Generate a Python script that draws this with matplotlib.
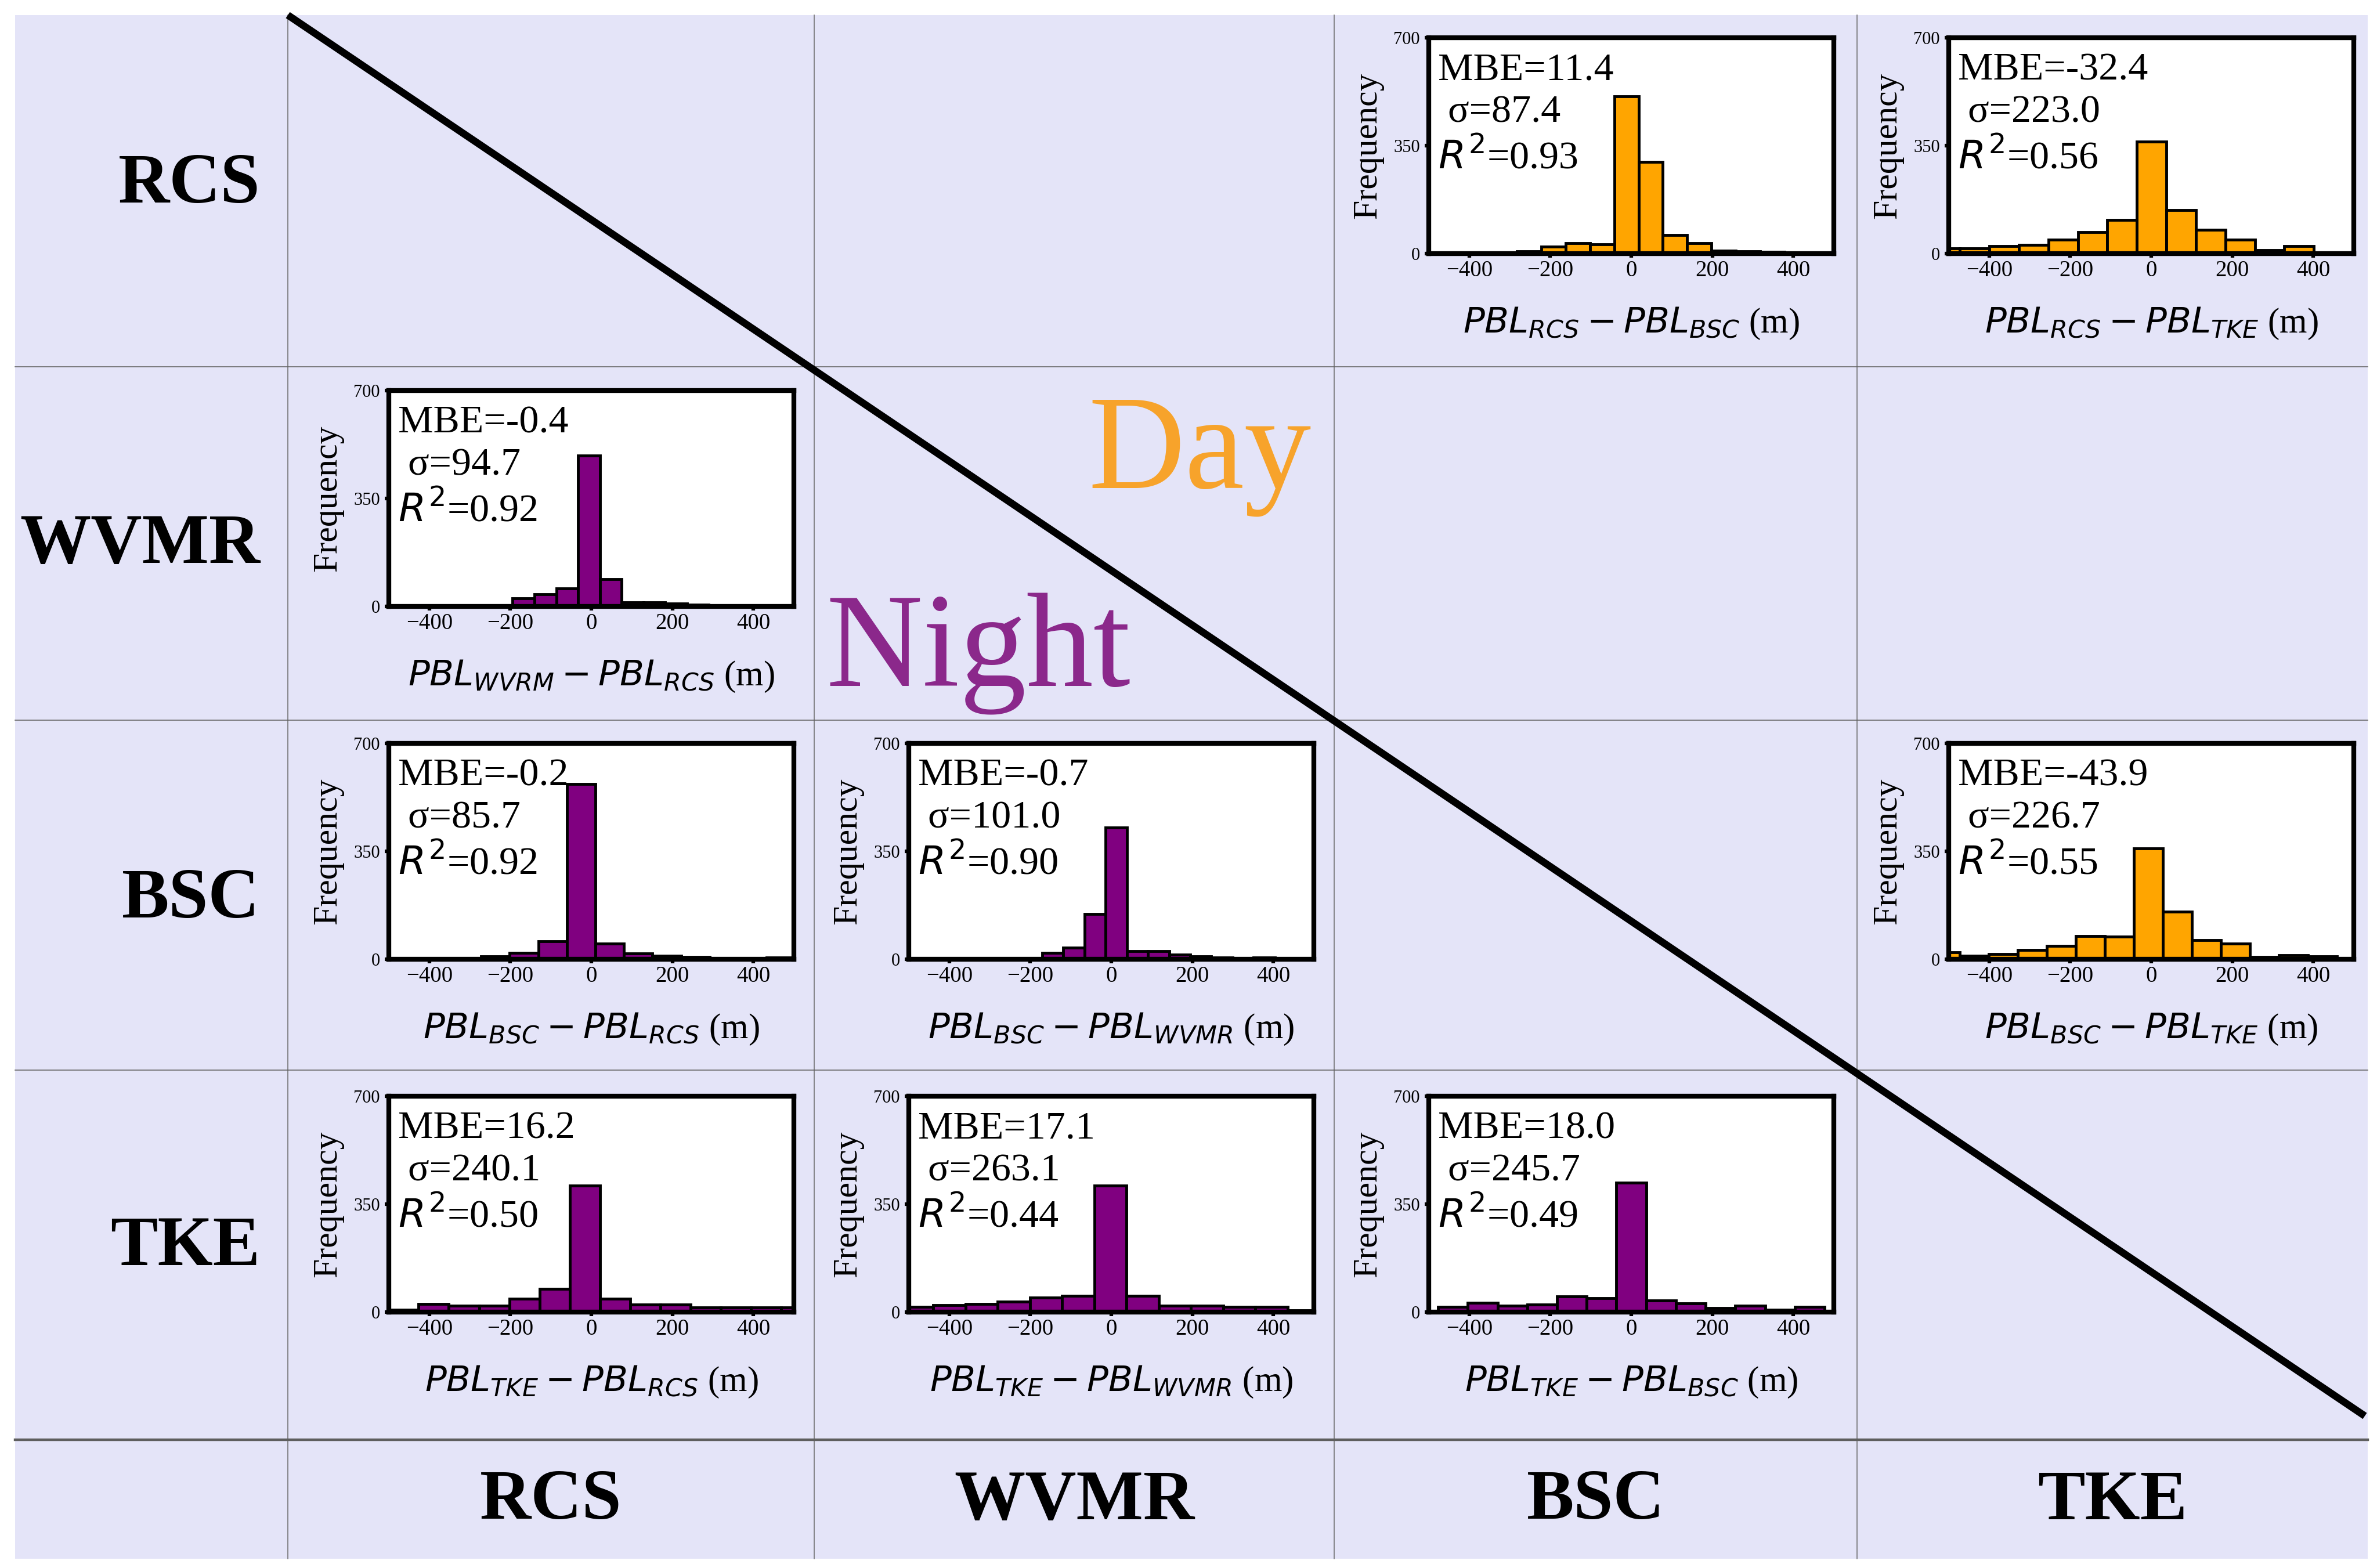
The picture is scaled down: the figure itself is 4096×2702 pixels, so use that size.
import numpy as np
import matplotlib.pyplot as plt
from matplotlib.patches import Rectangle

W, H, DPI = 4096, 2702, 100

methods = ['RCS', 'WVMR', 'BSC', 'TKE']

# histogram counts; bins = (first edge, bin width) in m
rcs_bsc_counts = [1, 1, 2, 3, 8, 22, 34, 30, 510, 297, 61, 34, 10, 8, 6, 3, 1]
rcs_bsc_bins = (-522, 60.0)
rcs_tke_counts = [16, 16, 25, 29, 46, 70, 110, 364, 142, 77, 46, 12, 25, 2, 1]
rcs_tke_bins = (-545, 72.8)
wvrm_rcs_counts = [2, 4, 4, 1, 3, 1, 26, 40, 58, 489, 89, 13, 13, 9, 5, 3, 2, 1, 1]
wvrm_rcs_bins = (-517, 53.8)
bsc_rcs_counts = [0, 1, 1, 1, 9, 20, 59, 569, 51, 19, 11, 7, 3, 2, 5]
bsc_rcs_bins = (-554, 70.5)
bsc_wvmr_counts = [0, 0, 2, 3, 3, 3, 3, 20, 38, 147, 427, 26, 26, 15, 10, 6, 2, 6, 1, 0]
bsc_wvmr_bins = (-536, 52.2)
bsc_tke_counts = [22, 12, 17, 31, 44, 76, 73, 359, 155, 63, 50, 7, 13, 9, 0]
bsc_tke_bins = (-544, 71.6)
tke_rcs_counts = [8, 27, 20, 20, 43, 76, 411, 43, 25, 25, 15, 15, 15, 15]
tke_rcs_bins = (-501, 74.6)
tke_wvmr_counts = [17, 23, 27, 33, 47, 53, 411, 53, 20, 20, 17, 17, 5]
tke_wvmr_bins = (-519, 79.5)
tke_bsc_counts = [17, 30, 20, 25, 51, 45, 420, 38, 29, 13, 20, 7, 17]
tke_bsc_bins = (-477, 73.4)

# panel stats, same order as the panel list below
mbe = ['11.4', '-32.4', '-0.4', '-0.2', '-0.7', '-43.9', '16.2', '17.1', '18.0']
sigma = ['87.4', '223.0', '94.7', '85.7', '101.0', '226.7', '240.1', '263.1', '245.7']
r2 = ['0.93', '0.56', '0.92', '0.92', '0.90', '0.55', '0.50', '0.44', '0.49']

# (row, col, first name, second name, counts, bins, period)
panels = [
    (0, 2, 'RCS', 'BSC', rcs_bsc_counts, rcs_bsc_bins, 'day'),
    (0, 3, 'RCS', 'TKE', rcs_tke_counts, rcs_tke_bins, 'day'),
    (1, 0, 'WVRM', 'RCS', wvrm_rcs_counts, wvrm_rcs_bins, 'night'),
    (2, 0, 'BSC', 'RCS', bsc_rcs_counts, bsc_rcs_bins, 'night'),
    (2, 1, 'BSC', 'WVMR', bsc_wvmr_counts, bsc_wvmr_bins, 'night'),
    (2, 3, 'BSC', 'TKE', bsc_tke_counts, bsc_tke_bins, 'day'),
    (3, 0, 'TKE', 'RCS', tke_rcs_counts, tke_rcs_bins, 'night'),
    (3, 1, 'TKE', 'WVMR', tke_wvmr_counts, tke_wvmr_bins, 'night'),
    (3, 2, 'TKE', 'BSC', tke_bsc_counts, tke_bsc_bins, 'night'),
]
colors = {'day': 'orange', 'night': 'purple'}

plt.rcParams['font.family'] = 'Liberation Serif'
plt.rcParams['mathtext.fontset'] = 'dejavusans'

fig = plt.figure(figsize=(W / DPI, H / DPI), dpi=DPI)

# background table, drawn in pixel coordinates
bg = fig.add_axes([0, 0, 1, 1])
bg.set_xlim(0, W)
bg.set_ylim(H, 0)
bg.axis('off')

col_edges = [26, 496, 1403, 2299, 3200, 4080]
row_edges = [26, 632, 1241, 1844, 2481, 2686]
bg.add_patch(Rectangle((col_edges[0], row_edges[0]), col_edges[-1] - col_edges[0],
                       row_edges[-1] - row_edges[0], facecolor='#E4E4F8',
                       edgecolor='none', zorder=0))
for x in col_edges[1:-1]:
    bg.plot([x, x], [row_edges[0], row_edges[-1]], color='#6a6a6a', lw=1.1, zorder=1)
for y in row_edges[1:-1]:
    lw = 3.2 if y == row_edges[-2] else 1.1
    bg.plot([col_edges[0], col_edges[-1]], [y, y], color='#5e5e5e', lw=lw, zorder=1)

# diagonal separating day / night
bg.plot([496, 4075], [26, 2440], color='black', lw=9, solid_capstyle='butt', zorder=2)

row_label_y = [319, 940, 1552, 2150]
for k, name in enumerate(methods):
    bg.text(448, row_label_y[k], name, ha='right', va='center', fontsize=88,
            fontweight='bold')
    xc = (col_edges[k + 1] + col_edges[k + 2]) / 2
    bg.text(xc, 2588, name, ha='center', va='center', fontsize=88, fontweight='bold')

bg.text(2259, 841, 'Day', ha='right', va='baseline', fontsize=166, color='#F7A32B')
bg.text(1423, 1183, 'Night', ha='left', va='baseline', fontsize=166, color='#8B288B')

# histogram panels
ax_w, ax_h = 698, 372
for n, (i, j, a, b, counts, (start, width), period) in enumerate(panels):
    left = 670 + 896 * j
    top = 65 + 608 * i
    ax = fig.add_axes([left / W, 1 - (top + ax_h) / H, ax_w / W, ax_h / H])
    edges = start + width * np.arange(len(counts) + 1)
    ax.hist(edges[:-1], bins=edges, weights=counts, color=colors[period],
            edgecolor='black', linewidth=3.5)
    ax.set_xlim(-500, 500)
    ax.set_ylim(0, 700)
    ax.set_xticks([-400, -200, 0, 200, 400])
    ax.set_yticks([0, 350, 700])
    ax.tick_params(axis='x', labelsize=28, length=5, width=4.5, pad=3)
    ax.tick_params(axis='y', labelsize=22, length=5, width=4.5, pad=6)
    for s in ax.spines.values():
        s.set_linewidth(6)
    ax.set_ylabel('Frequency', fontsize=43, labelpad=12)
    ax.set_xlabel(r'$PBL_{%s} - PBL_{%s}$ (m)' % (a, b), fontsize=44, labelpad=30)
    kw = dict(transform=ax.transAxes, fontsize=49, ha='left', va='baseline')
    ax.text(0.023, 0.806, f'MBE={mbe[n]}', **kw)
    ax.text(0.023, 0.610, f' σ={sigma[n]}', **kw)
    ax.text(0.023, 0.395, f'$R^2$={r2[n]}', **kw)

fig.savefig('out.png', dpi=DPI, facecolor='white')
